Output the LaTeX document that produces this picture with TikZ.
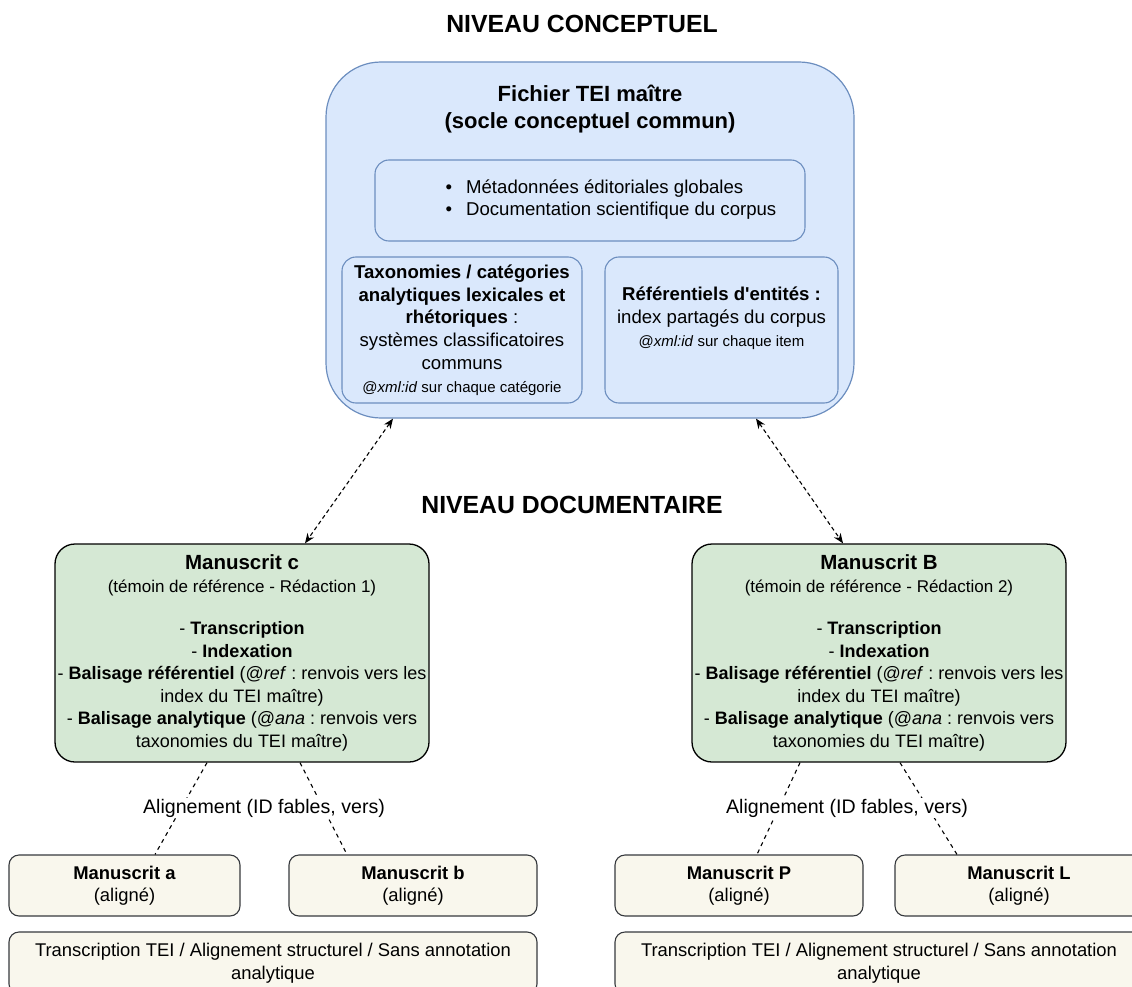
\documentclass[tikz,border=0pt]{standalone}
\usepackage{fontspec}
\setmainfont{Liberation Sans}
\usetikzlibrary{positioning, arrows.meta}
\frenchspacing
\definecolor{bluefill}{HTML}{DAE8FC}
\definecolor{blueline}{HTML}{6C8EBF}
\definecolor{greenfill}{HTML}{D5E8D4}
\definecolor{creamfill}{HTML}{F9F7ED}
\definecolor{creamline}{HTML}{36393D}
\tikzset{
	>={Stealth[length=10pt, width=8pt]},
	level/.style={font=\fontsize{24.8}{28}\selectfont\bfseries},
	master/.style={draw=blueline, fill=bluefill, line width=1.2pt, rounded corners=55pt,
		minimum width=528pt, minimum height=356pt},
	part/.style={draw=blueline, fill=bluefill, line width=1.1pt, rounded corners=14pt,
		inner sep=1pt},
	body/.style={align=center, font=\fontsize{18.6}{22.8}\selectfont},
	witness/.style={draw=black, fill=greenfill, line width=1.3pt, rounded corners=20pt,
		minimum width=374pt, minimum height=218pt, inner sep=1pt,
		align=center, font=\fontsize{18}{22.5}\selectfont},
	aligned/.style={draw=creamline, fill=creamfill, line width=1.1pt, rounded corners=10pt,
		inner sep=1pt, align=center, font=\fontsize{18.4}{22.5}\selectfont},
	link/.style={<->, line width=1.1pt, dash pattern=on 4pt off 3pt},
	tie/.style={line width=1.1pt, dash pattern=on 4pt off 4pt},
	lbl/.style={fill=white, inner sep=1pt, font=\fontsize{19.6}{22}\selectfont}
}
\newcommand{\bigb}[1]{{\fontsize{20.5}{24}\selectfont\bfseries #1}}
\newcommand{\smallt}[1]{{\fontsize{15}{18}\selectfont #1}}
\newcommand{\midt}[1]{{\fontsize{17}{20}\selectfont #1}}

\begin{document}
\begin{tikzpicture}[x=1pt, y=1pt]
	\useasboundingbox (0,0) rectangle (1132,-987);

	% niveau conceptuel
	\node[level] (lvlc) at (582,-24) {NIVEAU CONCEPTUEL};
	\node[master] (tei) at (590,-240) {};
	\node[align=center, font=\fontsize{22}{27}\selectfont\bfseries] (teititle) at (590,-109.5)
		{Fichier TEI maître\\(socle conceptuel commun)};
	\node[part, minimum width=430pt, minimum height=81pt] (meta) at (590,-200.5) {};
	\node[body, align=left] (metatext) at (611,-199.5)
		{\textbullet\hspace{14pt}Métadonnées éditoriales globales\\
		 \textbullet\hspace{14pt}Documentation scientifique du corpus};
	\node[part, body, minimum width=240pt, minimum height=146pt] (taxo) at (462,-330)
		{\textbf{Taxonomies / catégories}\\
		 \textbf{analytiques lexicales et}\\
		 \textbf{rhétoriques} :\\
		 systèmes classificatoires\\
		 communs\\
		 \smallt{@\textit{xml:id} sur chaque catégorie}};
	\node[part, minimum width=233pt, minimum height=146pt] (refs) at (721.5,-330) {};
	\node[body] (refstext) at (721.5,-318)
		{\textbf{Référentiels d\textquotesingle entités :}\\
		 index partagés du corpus\\
		 \smallt{@\textit{xml:id} sur chaque item}};

	% niveau documentaire
	\node[level] (lvld) at (572,-505) {NIVEAU DOCUMENTAIRE};
	\node[witness] (msc) at (242,-653)
		{\bigb{Manuscrit c}\\
		 \midt{(témoin de référence - Rédaction 1)}\\[20pt]
		 - \textbf{Transcription}\\
		 - \textbf{Indexation}\\
		 - \textbf{Balisage référentiel} (@\textit{ref} : renvois vers les\\
		 index du TEI maître)\\
		 - \textbf{Balisage analytique} (@\textit{ana} : renvois vers\\
		 taxonomies du TEI maître)};
	\node[witness] (msB) at (879,-653)
		{\bigb{Manuscrit B}\\
		 \midt{(témoin de référence - Rédaction 2)}\\[20pt]
		 - \textbf{Transcription}\\
		 - \textbf{Indexation}\\
		 - \textbf{Balisage référentiel} (@\textit{ref} : renvois vers les\\
		 index du TEI maître)\\
		 - \textbf{Balisage analytique} (@\textit{ana} : renvois vers\\
		 taxonomies du TEI maître)};

	% temoins alignes
	\node[aligned, minimum width=231pt, minimum height=61pt] (msa) at (124.5,-885.5)
		{\textbf{Manuscrit a}\\(aligné)};
	\node[aligned, minimum width=248pt, minimum height=61pt] (msb) at (413,-885.5)
		{\textbf{Manuscrit b}\\(aligné)};
	\node[aligned, minimum width=248pt, minimum height=61pt] (msP) at (739,-885.5)
		{\textbf{Manuscrit P}\\(aligné)};
	\node[aligned, minimum width=248pt, minimum height=61pt] (msL) at (1019,-885.5)
		{\textbf{Manuscrit L}\\(aligné)};
	\node[aligned, minimum width=528pt, minimum height=62pt] (noteleft) at (273,-963)
		{Transcription TEI / Alignement structurel / Sans annotation\\analytique};
	\node[aligned, minimum width=528pt, minimum height=62pt] (noteright) at (879,-963)
		{Transcription TEI / Alignement structurel / Sans annotation\\analytique};

	% liens
	\draw[link] ([xshift=-197pt]tei.south) -- ([xshift=63pt]msc.north);
	\draw[link] ([xshift=166pt]tei.south) -- ([xshift=-36pt]msB.north);

	\draw[tie] ([xshift=-35pt]msc.south) -- ([xshift=30.5pt]msa.north);
	\draw[tie] ([xshift=58pt]msc.south) -- ([xshift=-66pt]msb.north);
	\draw[tie] ([xshift=-79pt]msB.south) -- ([xshift=18pt]msP.north);
	\draw[tie] ([xshift=21pt]msB.south) -- ([xshift=-62pt]msL.north);
	\node[lbl] (alignc) at (264,-808) {Alignement (ID fables, vers)};
	\node[lbl] (alignB) at (847,-808) {Alignement (ID fables, vers)};
\end{tikzpicture}
\end{document}
